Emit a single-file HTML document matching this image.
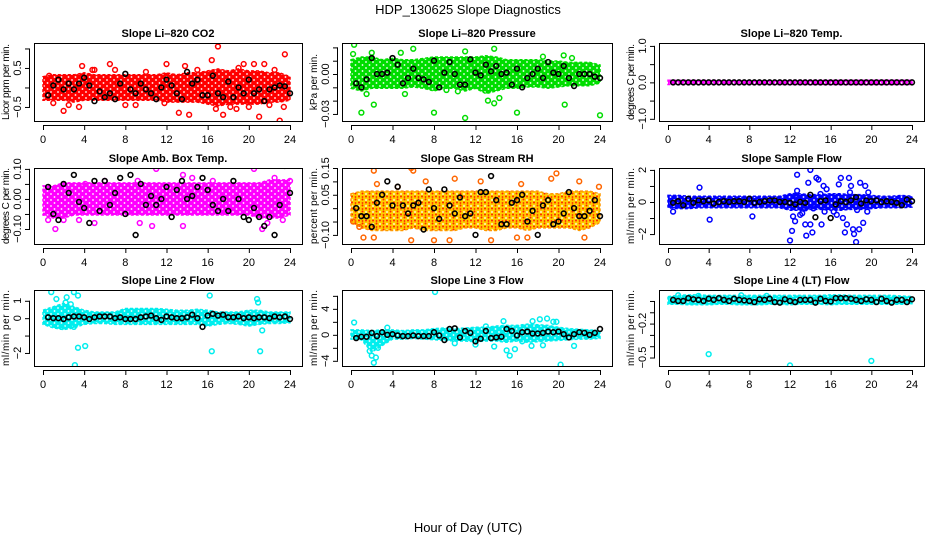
<!DOCTYPE html>
<html><head><meta charset="utf-8"><style>
html,body{margin:0;padding:0;background:#fff;}
svg{display:block;font-family:"Liberation Sans",Arial,sans-serif;}
</style></head><body>
<svg id="chart" width="936" height="540" xmlns="http://www.w3.org/2000/svg">
<text x="468" y="14" text-anchor="middle" font-size="13">HDP_130625  Slope Diagnostics</text>
<text x="468" y="532" text-anchor="middle" font-size="13">Hour of Day (UTC)</text>
</svg>
<script>
// ---- data (hours 0..24 for bands; black points at 0.5h steps) ----
const xTicks = [0,4,8,12,16,20,24];
// Panel 1: CO2
const co2BandLo = [-0.3,-0.3,-0.3,-0.35,-0.3,-0.3,-0.3,-0.3,-0.3,-0.3,-0.3,-0.3,-0.35,-0.35,-0.35,-0.35,-0.4,-0.45,-0.4,-0.4,-0.4,-0.4,-0.35,-0.35,-0.3];
const co2BandHi = [0.25,0.3,0.3,0.3,0.35,0.3,0.3,0.3,0.3,0.3,0.3,0.3,0.35,0.3,0.35,0.35,0.4,0.45,0.4,0.45,0.4,0.4,0.35,0.35,0.25];
const co2PtsX = [17,23.5,23,14.2,2,21,13.2,17.5,16.4,6.5,12,20.5,21.5,19.5,3.8,4.8,1,3.5,8,9,2.5,18.2,20,22,11.8,23.4,5,7,10,15,19,0.6,13.8,16.8,18.8,22.5];
const co2PtsY = [1.05,0.85,-0.85,-0.7,-0.6,-0.75,-0.65,-0.7,0.7,0.6,0.6,0.6,0.6,0.6,0.55,0.45,-0.4,-0.5,-0.45,-0.45,-0.45,-0.5,-0.5,-0.45,-0.4,-0.5,0.45,0.45,0.4,0.45,0.5,0.3,0.55,-0.55,-0.55,0.45];
const co2Black = [-0.2,0.05,0.2,-0.05,0.1,-0.05,0.1,0.25,0.05,-0.35,-0.1,-0.25,-0.15,-0.3,0.1,0.35,-0.05,-0.15,0.1,-0.05,-0.15,-0.3,0.0,0.2,0.05,-0.15,-0.3,0.4,0.1,0.2,-0.2,-0.2,0.3,-0.15,-0.25,0.15,-0.25,0.0,-0.15,0.2,-0.15,-0.05,-0.35,-0.05,0.0,0.05,0.03,-0.15];
// Panel 2: Pressure
const prBandLo = [-0.01,-0.012,-0.01,-0.01,-0.01,-0.01,-0.009,-0.01,-0.012,-0.01,-0.01,-0.012,-0.01,-0.014,-0.012,-0.01,-0.01,-0.009,-0.009,-0.01,-0.009,-0.008,-0.008,-0.008,-0.006];
const prBandHi = [0.01,0.012,0.012,0.01,0.011,0.01,0.01,0.011,0.012,0.012,0.012,0.012,0.012,0.013,0.012,0.01,0.01,0.01,0.01,0.009,0.009,0.008,0.008,0.008,0.006];
const prPtsX = [0.3,1,8,11,16,24,2.2,20.6,6,11,13.8,20.5,2,13.2,13.8,14.3,0.2,1.5,5.2,9.2,18.5,21.3,4.8,10.3];
const prPtsY = [0.022,-0.029,-0.029,-0.033,-0.029,-0.031,-0.023,-0.023,0.019,0.017,0.019,0.014,0.016,-0.02,-0.022,-0.018,0.015,-0.015,-0.015,-0.012,0.013,0.012,0.016,-0.013];
const prBlack = [-0.007,-0.01,-0.004,0.012,0.0,0.0,0.001,0.012,0.007,-0.007,-0.003,0.004,-0.003,-0.004,-0.006,0.01,-0.01,0.001,0.009,0.0,-0.008,-0.008,0.011,0.001,-0.001,0.007,0.002,0.006,0.0,0.001,-0.008,0.004,-0.01,-0.003,0.0,0.004,-0.003,0.009,0.001,0.0,0.006,-0.003,-0.009,0.0,0.0,0.0,-0.002,-0.003];
// Panel 3: Li-820 temperature
const tpBandLo = [-0.03,-0.03,-0.03,-0.03,-0.03,-0.03,-0.03,-0.03,-0.03,-0.03,-0.03,-0.03,-0.03,-0.03,-0.03,-0.03,-0.03,-0.03,-0.03,-0.03,-0.03,-0.03,-0.03,-0.03,-0.03];
const tpBandHi = [0.03,0.03,0.03,0.03,0.03,0.03,0.03,0.03,0.03,0.03,0.03,0.03,0.03,0.03,0.03,0.03,0.03,0.03,0.03,0.03,0.03,0.03,0.03,0.03,0.03];
const tpPtsX = [];
const tpPtsY = [];
const tpBlack = [0,0,0,0,0,0,0,0,0,0,0,0,0,0,0,0,0,0,0,0,0,0,0,0,0,0,0,0,0,0,0,0,0,0,0,0,0,0,0,0,0,0,0,0,0,0,0,0];
// Panel 4: Amb. box temp
const btBandLo = [-0.05,-0.06,-0.06,-0.05,-0.05,-0.05,-0.05,-0.05,-0.05,-0.05,-0.05,-0.05,-0.05,-0.05,-0.05,-0.05,-0.05,-0.05,-0.05,-0.05,-0.05,-0.06,-0.06,-0.06,-0.05];
const btBandHi = [0.04,0.04,0.05,0.05,0.05,0.05,0.05,0.05,0.05,0.05,0.05,0.05,0.05,0.05,0.05,0.05,0.05,0.05,0.05,0.05,0.05,0.05,0.06,0.06,0.06];
const btPtsX = [5.8,1.2,11,20.5,13.6,14.5,22.5,24,6,21.3,2,3.5,5,9.4,10.6,13.6,21.8,23.3,0.5,9.2,4.1,16.5];
const btPtsY = [-0.17,-0.1,0.1,0.1,0.08,0.07,0.07,0.06,0.06,-0.1,-0.07,-0.07,-0.08,-0.08,-0.09,-0.09,-0.08,-0.07,-0.07,0.06,0.05,0.06];
const btBlack = [0.04,-0.05,-0.07,0.05,0.02,0.08,-0.01,-0.03,-0.08,0.06,-0.04,0.06,-0.02,0.02,0.07,-0.05,0.08,-0.12,0.05,-0.02,0.01,-0.02,0.0,0.04,-0.06,0.03,0.06,0.0,0.01,0.04,0.07,0.03,-0.02,-0.04,0.0,-0.04,0.06,0.0,-0.06,-0.07,-0.03,-0.06,-0.09,-0.06,-0.12,-0.02,0.11,0.02];
// Panel 5: Gas stream RH
const rhBandLo = [-0.05,-0.07,-0.08,-0.08,-0.08,-0.08,-0.07,-0.08,-0.08,-0.08,-0.08,-0.07,-0.07,-0.08,-0.08,-0.07,-0.07,-0.08,-0.07,-0.07,-0.07,-0.07,-0.08,-0.07,-0.05];
const rhBandHi = [0.05,0.06,0.06,0.06,0.06,0.06,0.06,0.06,0.06,0.06,0.06,0.06,0.06,0.06,0.06,0.06,0.06,0.06,0.06,0.05,0.05,0.06,0.06,0.06,0.05];
const rhPtsX = [2.2,5.8,6,7.2,10,19.8,19.3,22,5.8,8,9.5,2.2,1.2,16,22.5,0.2,0.8,13.5,17,4.5,12.5,16.4,2.5,23.9];
const rhPtsY = [0.14,0.15,0.14,0.1,0.11,0.13,0.11,0.1,-0.12,-0.12,-0.12,-0.11,-0.11,-0.11,-0.11,-0.05,-0.07,-0.12,-0.11,0.08,0.1,0.09,0.09,0.08];
const rhBlack = [0.0,-0.03,-0.03,-0.07,0.02,0.05,0.1,0.01,0.08,0.01,-0.02,0.01,0.02,-0.08,0.07,0.0,-0.04,0.07,0.01,-0.02,0.04,-0.03,-0.02,-0.1,0.06,0.06,0.12,0.03,-0.06,-0.06,0.02,0.03,0.05,-0.05,-0.01,-0.1,0.01,0.03,-0.06,-0.05,-0.02,0.06,0.0,-0.03,-0.03,-0.01,0.03,-0.03];
// Panel 6: Sample flow
const sfBandLo = [-0.3,-0.35,-0.35,-0.3,-0.3,-0.3,-0.3,-0.3,-0.3,-0.3,-0.3,-0.3,-0.45,-0.45,-0.4,-0.4,-0.45,-0.45,-0.4,-0.4,-0.35,-0.3,-0.3,-0.3,-0.25];
const sfBandHi = [0.35,0.35,0.3,0.3,0.3,0.3,0.3,0.3,0.3,0.3,0.3,0.3,0.45,0.45,0.4,0.4,0.45,0.45,0.4,0.4,0.35,0.3,0.3,0.35,0.3];
const sfPtsX = [3.1,4.1,0.5,8.3,12,12.2,12.3,12.5,12.7,12.7,13,13.2,13.5,13.5,13.6,13.8,14,14.2,14.3,14,14.6,14.8,15.1,15.3,15.6,15.4,16.3,16.6,16.8,17,17.2,17.4,17.6,17.8,17.9,18,18.2,18.3,18.5,18.6,18.8,18.9,19.2,19.4,19.6,19.7,12.5,15];
const sfPtsY = [0.9,-1.1,-0.6,-0.9,-2.4,-1.8,-0.9,-1.2,1.7,0.7,-0.8,-0.7,-1.4,-0.4,-2.1,1.2,-1.4,-1.9,-0.4,2.0,1.5,1.4,-1.4,1.0,0.8,-0.6,-0.6,-0.8,1.1,1.5,-1.0,-1.9,-1.4,1.5,0.6,1.0,-1.7,-2.0,-2.5,-0.5,-1.7,1.2,-1.3,1.0,-0.6,0.6,0.4,0.5];
const sfBlack = [-0.05,0.05,-0.2,0.2,-0.05,0.1,0.05,0.1,-0.1,0.0,0.05,0.0,0.05,0.05,0.0,0.2,-0.05,0.0,0.05,0.1,0.1,0.0,0.0,-0.05,-0.15,0.0,-0.05,0.45,-0.95,0.05,0.1,-1.0,-0.15,0.05,0.0,0.1,0.3,-0.1,0.1,0.05,0.1,0.0,0.05,0.0,-0.05,-0.2,0.15,0.05];
// Panel 7: Line 2 flow
const l2BandLo = [-0.3,-0.5,-0.6,-0.5,-0.3,-0.25,-0.25,-0.3,-0.3,-0.3,-0.3,-0.3,-0.3,-0.3,-0.3,-0.3,-0.4,-0.3,-0.25,-0.3,-0.4,-0.3,-0.25,-0.25,-0.2];
const l2BandHi = [0.4,0.6,0.8,0.6,0.4,0.3,0.3,0.3,0.5,0.5,0.5,0.5,0.45,0.4,0.4,0.45,0.4,0.3,0.3,0.3,0.4,0.4,0.3,0.3,0.3];
const l2PtsX = [0.8,1.3,3,3.4,2.3,2.7,2.2,3,3.4,4.1,3.1,16.2,16.4,20.8,20.9,21.1,21.3,1.8];
const l2PtsY = [1.5,1.1,1.5,1.3,1.2,0.8,0.9,-0.5,-1.7,-1.6,-2.7,1.3,-1.9,1.1,0.9,-1.9,-0.7,-0.5];
const l2Black = [0.05,0.0,0.0,-0.05,0.05,0.1,0.1,0.05,-0.05,0.05,0.1,0.1,0.1,0.0,0.05,-0.05,-0.05,-0.05,0.05,0.1,0.15,0.0,-0.1,0.1,0.05,0.0,0.0,0.05,0.2,0.0,-0.5,0.15,0.25,0.15,0.2,0.05,0.05,0.1,0.0,0.05,0.0,0.05,0.05,0.0,0.1,0.05,0.1,-0.05];
// Panel 8: Line 3 flow
const l3BandLo = [-0.5,-0.6,-2.5,-1.5,-0.5,-0.5,-0.4,-0.5,-0.6,-0.7,-0.8,-0.8,-0.9,-0.8,-0.8,-1.0,-0.8,-1.0,-0.9,-0.8,-0.7,-0.6,-0.5,-0.5,-0.4];
const l3BandHi = [0.6,0.6,0.5,0.6,0.6,0.5,0.6,0.6,0.8,0.9,0.8,0.9,1.0,1.0,1.2,1.3,1.3,1.5,1.4,1.3,1.0,0.8,0.7,0.6,0.5];
const l3PtsX = [8.1,0.3,2.2,1.8,2,2.4,2.6,2.8,15.3,15,20.2,17.5,18.2,18.9,19.5,19.8,14.7,15.8,13,16.5,21.5,17.4,18.5,13.8,10,12,3.5];
const l3PtsY = [6.6,1.9,-4.3,-2.5,-3.2,-3.5,-2,-1.2,-3.2,-2.4,-4.6,2.1,2.4,2.5,2.0,2.0,2.1,-2.2,1.3,-1.0,-1.7,-1.7,-1.6,-1.8,-1.3,-1.5,1.1];
const l3Black = [-0.5,-0.3,-0.3,0.3,-0.2,0.4,0.0,0.1,-0.1,-0.2,-0.2,-0.1,-0.2,-0.2,-0.2,0.4,-0.1,-0.8,0.9,1.0,-0.4,0.6,0.3,-1.0,-0.6,0.6,-0.5,-0.4,-0.3,0.9,0.6,-0.1,0.4,0.5,0.2,0.2,0.3,0.5,0.4,0.5,0.1,-0.4,0.1,0.4,0.3,0.0,0.3,0.9];
// Panel 9: Line 4 (LT) flow
const l4BandLo = [-0.02,-0.02,-0.025,-0.025,-0.025,-0.02,-0.02,-0.025,-0.025,-0.025,-0.02,-0.02,-0.025,-0.02,-0.02,-0.02,-0.025,-0.02,-0.02,-0.02,-0.02,-0.02,-0.02,-0.02,-0.015];
const l4BandHi = [0.03,0.04,0.045,0.045,0.04,0.04,0.04,0.04,0.04,0.04,0.04,0.04,0.04,0.04,0.04,0.04,0.045,0.045,0.04,0.04,0.04,0.04,0.04,0.035,0.03];
const l4PtsX = [4,12,20,1,3,7.2,9.7];
const l4PtsY = [-0.47,-0.57,-0.53,0.05,0.045,0.05,0.045];
const l4Black = [0.01,0.0,0.0,0.025,0.015,0.01,0.0,0.02,0.01,0.025,0.01,0.0,0.02,0.01,0.005,0.0,-0.01,0.015,0.01,0.02,-0.01,-0.015,0.015,0.0,-0.01,0.01,0.01,0.01,-0.015,0.02,0.0,-0.005,0.025,0.025,0.025,0.02,0.01,0.0,0.015,0.01,-0.01,0.02,0.0,-0.015,0.01,0.01,-0.01,0.015];

const panelDefs = [
 {name:'co2',title:'Slope Li\u2013820 CO2',ylab:'Licor ppm per min.',col:0,row:0,color:'#ff0000',lo:co2BandLo,hi:co2BandHi,px:co2PtsX,py:co2PtsY,blk:co2Black,ymax:1.14,ymin:-0.86,ticks:[1,0.5,0,-0.5],labels:['','0.5','','\u22120.5']},
 {name:'pressure',title:'Slope Li\u2013820 Pressure',ylab:'kPa per min.',col:1,row:0,color:'#00dd00',lo:prBandLo,hi:prBandHi,px:prPtsX,py:prPtsY,blk:prBlack,ymax:0.0233,ymin:-0.0353,ticks:[0.02,0.01,0,-0.01,-0.02,-0.03],labels:['','','0.00','','','\u22120.03']},
 {name:'li820-temp',title:'Slope Li\u2013820 Temp.',ylab:'degrees C per min.',col:2,row:0,color:'#ff00ff',lo:tpBandLo,hi:tpBandHi,px:tpPtsX,py:tpPtsY,blk:tpBlack,ymax:1.08,ymin:-1.06,ticks:[1,0.5,0,-0.5,-1],labels:['1.0','','0.0','','\u22121.0']},
 {name:'box-temp',title:'Slope Amb. Box Temp.',ylab:'degrees C per min.',col:0,row:1,color:'#ff00ff',lo:btBandLo,hi:btBandHi,px:btPtsX,py:btPtsY,blk:btBlack,ymax:0.103,ymin:-0.15,ticks:[0.1,0.05,0,-0.05,-0.1],labels:['0.10','','0.00','','\u22120.10']},
 {name:'gas-rh',title:'Slope Gas Stream RH',ylab:'percent per min.',col:1,row:1,color:'#ee7700',lo:rhBandLo,hi:rhBandHi,px:rhPtsX,py:rhPtsY,blk:rhBlack,ymax:0.15,ymin:-0.134,ticks:[0.15,0.1,0.05,0,-0.05,-0.1],labels:['0.15','','0.05','','','\u22120.10']},
 {name:'sample-flow',title:'Slope Sample Flow',ylab:'ml/min per min.',col:2,row:1,color:'#0000ff',lo:sfBandLo,hi:sfBandHi,px:sfPtsX,py:sfPtsY,blk:sfBlack,ymax:2.12,ymin:-2.62,ticks:[2,1,0,-1,-2],labels:['2','','0','','\u22122']},
 {name:'line2-flow',title:'Slope Line 2 Flow',ylab:'ml/min per min.',col:0,row:2,color:'#00eeee',lo:l2BandLo,hi:l2BandHi,px:l2PtsX,py:l2PtsY,blk:l2Black,ymax:1.62,ymin:-2.75,ticks:[1,0,-1,-2],labels:['1','0','','\u22122']},
 {name:'line3-flow',title:'Slope Line 3 Flow',ylab:'ml/min per min.',col:1,row:2,color:'#00eeee',lo:l3BandLo,hi:l3BandHi,px:l3PtsX,py:l3PtsY,blk:l3Black,ymax:6.9,ymin:-4.8,ticks:[6,4,2,0,-2,-4],labels:['','4','','0','','\u22124']},
 {name:'line4-flow',title:'Slope Line 4 (LT) Flow',ylab:'ml/min per min.',col:2,row:2,color:'#00eeee',lo:l4BandLo,hi:l4BandHi,px:l4PtsX,py:l4PtsY,blk:l4Black,ymax:0.097,ymin:-0.575,ticks:[0,-0.1,-0.2,-0.3,-0.4,-0.5],labels:['','','\u22120.2','','','\u22120.5']}
];
const boxL=[34,342,659], boxR=[302,612,924], boxT=[43,168,290], boxB=[121,244,366];
const NS='http://www.w3.org/2000/svg';
const svg=document.getElementById('chart');
function mk(tag,attrs,parent){const e=document.createElementNS(NS,tag);for(const k in attrs)e.setAttribute(k,attrs[k]);parent.appendChild(e);return e;}
const defs=mk('defs',{},svg);

panelDefs.forEach(p=>{
  const L=boxL[p.col],R=boxR[p.col],T=boxT[p.row],B=boxB[p.row];
  const x0=L+9,x1=R-12;
  const xs=h=>x0+(x1-x0)*h/24;
  const ys=v=>T+(p.ymax-v)/(p.ymax-p.ymin)*(B-T);
  const g=mk('g',{},svg);
  
  
  // speckle pattern to mimic dense overplotted open circles
  const pid='pat-'+p.name;
  const pat=mk('pattern',{id:pid,width:7,height:6,patternUnits:'userSpaceOnUse'},defs);
  const pc = p.name==='gas-rh' ? '#ffcc00' : p.color;
  mk('rect',{x:0,y:0,width:7,height:6,fill:pc},pat);
  mk('circle',{cx:2,cy:2,r:0.9,fill:'#fff'},pat);
  mk('circle',{cx:5.5,cy:5,r:0.9,fill:p.name==='gas-rh'?'#ff2200':'#fff'},pat);
  if(p.name==='gas-rh'){mk('circle',{cx:5.5,cy:1.5,r:1,fill:'#ff2200'},pat);mk('circle',{cx:2,cy:4.5,r:1,fill:'#ff2200'},pat);}
  const cp='clip-'+p.name;
  const cdef=mk('clipPath',{id:cp},g);
  mk('rect',{x:L,y:T,width:R-L,height:B-T},cdef);
  const plot=mk('g',{'clip-path':'url(#'+cp+')'},g);
  // band
  let d='';
  p.hi.forEach((v,i)=>{d+=(i?'L':'M')+xs(i).toFixed(1)+','+(ys(v)-1).toFixed(1);});
  for(let i=p.lo.length-1;i>=0;i--){d+='L'+xs(i).toFixed(1)+','+(ys(p.lo[i])+1).toFixed(1);}
  const band=mk('path',{d:d+'Z',fill:'url(#'+pid+')',stroke:p.name==='gas-rh'?'#ff9900':p.color,'stroke-width':1.5,'stroke-dasharray':'3 2'},plot);
  
  
  // scatter outliers
  p.px.forEach((h,i)=>{
    const c=mk('circle',{cx:xs(h),cy:ys(p.py[i]),r:2.4,fill:'none',stroke:p.name==='gas-rh'?'#ff6600':p.color,'stroke-width':1.5},plot);
    
    
  });
  // black points
  p.blk.forEach((v,i)=>{
    const c=mk('circle',{cx:xs((i+1)*0.5),cy:ys(v),r:2.4,fill:'none',stroke:'#000','stroke-width':1.6},plot);
    
    
  });
  // box
  const bx=mk('rect',{x:L+0.5,y:T+0.5,width:R-L,height:B-T,fill:'none',stroke:'#000','stroke-width':1},g);
  
  
  // title
  const t=mk('text',{x:(L+R)/2,y:T-6,'text-anchor':'middle','font-size':11,'font-weight':'bold'},g);
  t.textContent=p.title;
  
  
  // x axis
  const xa=mk('g',{},g);
  
  
  mk('line',{x1:xs(0),x2:xs(24),y1:B+4.5,y2:B+4.5,stroke:'#000'},xa);
  xTicks.forEach(h=>{
    mk('line',{x1:xs(h)+0.5,x2:xs(h)+0.5,y1:B+4,y2:B+9,stroke:'#000'},xa);
    const tl=mk('text',{x:xs(h),y:B+22,'text-anchor':'middle','font-size':11},xa);
    tl.textContent=h;
    
    
  });
  // y axis
  const ya=mk('g',{},g);
  
  
  const tt=p.ticks;
  mk('line',{x1:L-4.5,x2:L-4.5,y1:ys(tt[0]),y2:ys(tt[tt.length-1]),stroke:'#000'},ya);
  tt.forEach((v,i)=>{
    mk('line',{x1:L-9,x2:L-4,y1:ys(v)+0.5,y2:ys(v)+0.5,stroke:'#000'},ya);
    if(p.labels[i]){
      const yy=ys(v);
      const tl=mk('text',{x:L-13,y:yy,'text-anchor':'middle','font-size':11,transform:'rotate(-90 '+(L-13)+' '+yy+')'},ya);
      tl.textContent=p.labels[i];
      
      
    }
  });
  const yc=(T+B)/2;
  const yl=mk('text',{x:L-25,y:yc,'text-anchor':'middle','font-size':10,transform:'rotate(-90 '+(L-25)+' '+yc+')'},g);
  yl.textContent=p.ylab;
  if(p.ylab.length>14) yl.setAttribute('textLength','76');
  
  
});
</script>
</body></html>
